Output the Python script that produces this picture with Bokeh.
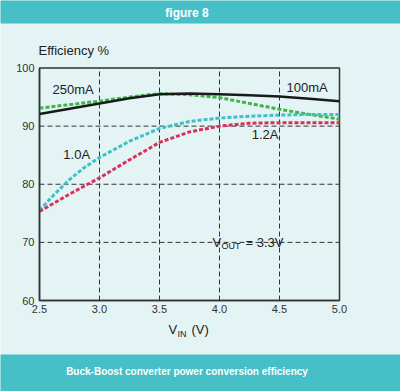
from bokeh.plotting import figure
from bokeh.models import Label, Range1d, FixedTicker, PrintfTickFormatter, BoxAnnotation
from bokeh.embed import file_html
from bokeh.resources import INLINE

# ---- data ----
vin_100mA = [2.5, 2.75, 3.0, 3.25, 3.5, 3.75, 4.0, 4.25, 4.5, 4.75, 5.0]
eff_100mA = [92.1, 93.0, 93.9, 94.8, 95.5, 95.6, 95.5, 95.3, 95.1, 94.7, 94.3]
vin_250mA = [2.5, 2.75, 3.0, 3.25, 3.5, 3.75, 4.0, 4.25, 4.5, 4.75, 5.0]
eff_250mA = [93.1, 93.7, 94.3, 95.0, 95.6, 95.4, 94.9, 93.9, 92.9, 92.0, 91.2]
vin_1A = [2.5, 2.625, 2.75, 2.875, 3.0, 3.25, 3.5, 3.75, 4.0, 4.25, 4.5, 4.75, 5.0]
eff_1A = [75.5, 78.3, 80.8, 82.9, 84.6, 87.4, 89.6, 90.8, 91.4, 91.7, 91.9, 92.0, 92.0]
vin_1p2A = [2.5, 2.75, 3.0, 3.25, 3.5, 3.75, 4.0, 4.25, 4.5, 4.75, 5.0]
eff_1p2A = [75.3, 78.3, 81.1, 84.2, 87.2, 89.0, 90.0, 90.5, 90.6, 90.6, 90.6]

x_ticks = [2.5, 3.0, 3.5, 4.0, 4.5, 5.0]
y_ticks = [60, 70, 80, 90, 100]

series_labels = ["250mA", "100mA", "1.0A", "1.2A"]
label_x = [2.78, 4.73, 2.81, 4.38]
label_y = [96.3, 96.6, 85.1, 88.6]

BG = "#e4f3f4"
TEAL = "#46bfc6"
FONT = "Liberation Sans"
INK = "#222222"
W, H = 400, 391

# canvas geometry: plot box spans px 39..339 horizontally and 67.5..300 vertically
PX_PER_X = 120.0
PX_PER_Y = 5.8125
x0 = x_ticks[0] - 39 / PX_PER_X
x1 = x_ticks[-1] + (W - 339) / PX_PER_X
y1 = y_ticks[-1] + 67.5 / PX_PER_Y
y0 = y_ticks[0] - (H - 300) / PX_PER_Y

def X(px):
    return x0 + px / PX_PER_X

def Y(py):
    return y1 - py / PX_PER_Y

p = figure(width=W, height=H, output_backend="svg", toolbar_location=None, title=None,
           x_range=Range1d(x0, x1), y_range=Range1d(y0, y1), min_border=0)
p.background_fill_color = BG
p.border_fill_color = BG
p.outline_line_color = None
p.xgrid.visible = False
p.ygrid.visible = False

# banners
p.add_layout(BoxAnnotation(left=x0 - 1, right=x1 + 1, bottom=Y(23), top=y1 + 1,
                           fill_color=TEAL, fill_alpha=1, line_alpha=0, level="underlay"))
p.add_layout(BoxAnnotation(left=x0 - 1, right=x1 + 1, bottom=y0 - 1, top=Y(354),
                           fill_color=TEAL, fill_alpha=1, line_alpha=0, level="underlay"))

# dashed grid inside the plot box
p.segment(x0=x_ticks[1:-1], x1=x_ticks[1:-1], y0=[y_ticks[0]] * 4, y1=[y_ticks[-1]] * 4,
          line_color="#333333", line_width=1, line_dash="5 3")
p.segment(x0=[x_ticks[0]] * 3, x1=[x_ticks[-1]] * 3, y0=y_ticks[1:-1], y1=y_ticks[1:-1],
          line_color="#333333", line_width=1, line_dash="5 3")
# box
p.quad(left=[x_ticks[0]], right=[x_ticks[-1]], bottom=[y_ticks[0]], top=[y_ticks[-1]],
       fill_alpha=0, line_color="#333333", line_width=1.5)

# axes fixed at the plot box edges
xa, ya = p.xaxis[0], p.yaxis[0]
xa.fixed_location = y_ticks[0]
ya.fixed_location = x_ticks[0]
xa.bounds = (x_ticks[0], x_ticks[-1])
ya.bounds = (y_ticks[0], y_ticks[-1])
for ax, ticks, fmt in ((xa, x_ticks, "%.1f"), (ya, y_ticks, "%d")):
    ax.ticker = FixedTicker(ticks=ticks)
    ax.formatter = PrintfTickFormatter(format=fmt)
    ax.major_tick_out = 0
    ax.major_tick_in = 0
    ax.minor_tick_out = 0
    ax.minor_tick_in = 0
    ax.axis_line_color = "#333333"
    ax.axis_line_width = 1.5
    ax.major_label_text_font = FONT
    ax.major_label_text_font_size = "11px"
    ax.major_label_text_color = "#333333"
xa.major_label_standoff = 4
ya.major_label_standoff = 5

# series
p.line(vin_250mA, eff_250mA, line_color="#3db54a", line_width=3, line_dash="4 2")
p.line(vin_1A, eff_1A, line_color="#3fc0c8", line_width=3, line_dash="4 2")
p.line(vin_1p2A, eff_1p2A, line_color="#d8325c", line_width=3, line_dash="4 2")
p.line(vin_100mA, eff_100mA, line_color="#1a1a1a", line_width=2.5)

def lab(x, y, text, size, color=INK, bold=False, align="center", xo=0, yo=0):
    p.add_layout(Label(x=x, y=y, x_offset=xo, y_offset=yo, text=text, text_font=FONT,
                       text_font_size=size, text_color=color,
                       text_font_style="bold" if bold else "normal",
                       text_align=align, text_baseline="middle"))

for t, lx, ly in zip(series_labels, label_x, label_y):
    lab(lx, ly, t, "13px")

# V_OUT = 3.3V
lab(4.0, 70, "V", "13px", align="left", xo=-7)
lab(4.0, 70, "OUT", "9px", align="left", xo=2, yo=-4)
lab(4.0, 70, "= 3.3V", "13px", align="left", xo=26)

# texts around the chart
lab(X(186.5), Y(12), "figure 8", "12px", color="white", bold=True)
lab(X(38), Y(50), "Efficiency %", "13px", align="left")
lab(X(168), Y(329), "V", "13px", align="left")
lab(X(168), Y(329), "IN", "9px", align="left", xo=9, yo=-4)
lab(X(168), Y(329), "(V)", "13px", align="left", xo=23)
lab(X(186.5), Y(371), "Buck-Boost converter power conversion efficiency", "10px",
    color="white", bold=True)

open("out.html", "w").write(file_html(p, INLINE))
